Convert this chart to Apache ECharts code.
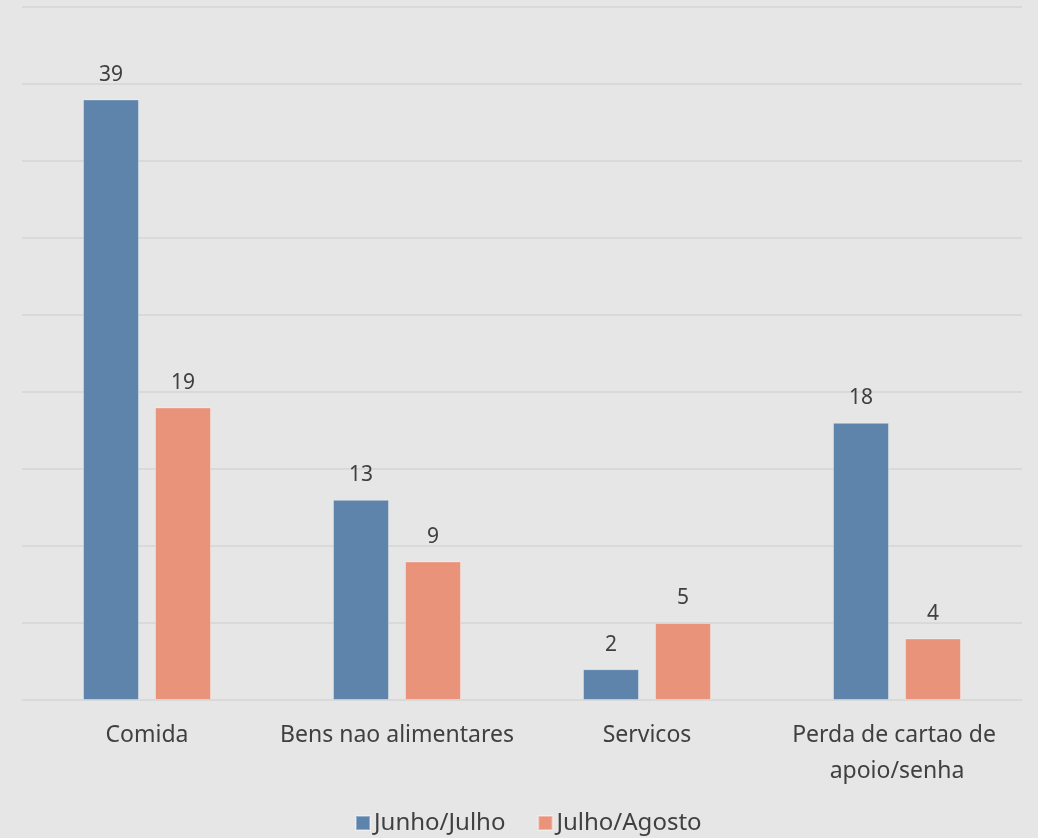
<!DOCTYPE html>
<html>
<head>
<meta charset="utf-8">
<script src="https://cdn.jsdelivr.net/npm/echarts@6/dist/echarts.min.js"></script>
<style>
html,body{margin:0;padding:0;background:#e7e6e6;}
#chart{width:1038px;height:838px;}
</style>
</head>
<body>
<div id="chart"></div>
<script>
const categories = ['Comida', 'Bens nao alimentares', 'Servicos', 'Perda de cartao de apoio/senha'];
const seriesNames = ['Junho/Julho', 'Julho/Agosto'];
const junhoJulho = [39, 13, 2, 18];
const julhoAgosto = [19, 9, 5, 4];

const FONT = '"Noto Sans", "Open Sans", sans-serif';
const TEXT = '#404040';

const chart = echarts.init(document.getElementById('chart'), null, {renderer: 'canvas'});
const barStyle = (color) => ({
  type: 'bar',
  barWidth: 56,
  barGap: '28.6%',
  itemStyle: {color: color, borderColor: 'rgba(255,255,255,0.35)', borderWidth: 1},
  label: {show: true, position: 'top', distance: 14, color: TEXT, fontSize: 21, fontFamily: FONT},
  emphasis: {disabled: true}
});

chart.setOption({
  backgroundColor: '#e7e6e6',
  animation: false,
  grid: {left: 22, right: 16, top: 7, bottom: 138, containLabel: false},
  legend: {
    top: 811,
    left: 355,
    padding: 0,
    itemWidth: 14,
    itemHeight: 14,
    itemGap: 32,
    icon: 'rect',
    textStyle: {color: TEXT, fontSize: 24, fontFamily: FONT, padding: [0, 0, 0, -1]},
    data: seriesNames
  },
  xAxis: {
    type: 'category',
    data: categories,
    axisLine: {lineStyle: {color: '#d9d9d9', width: 1}},
    axisTick: {show: false},
    axisLabel: {
      color: TEXT, fontSize: 23, fontFamily: FONT, margin: 17,
      width: 240, overflow: 'break', lineHeight: 36, interval: 0
    }
  },
  yAxis: {
    type: 'value',
    min: 0, max: 45, interval: 5,
    axisLabel: {show: false},
    axisLine: {show: false},
    axisTick: {show: false},
    splitLine: {lineStyle: {color: '#d9d9d9', width: 2}}
  },
  series: [
    Object.assign(barStyle('#5e84ab'), {name: seriesNames[0], data: junhoJulho}),
    Object.assign(barStyle('#e8937a'), {name: seriesNames[1], data: julhoAgosto})
  ]
});
</script>
</body>
</html>
